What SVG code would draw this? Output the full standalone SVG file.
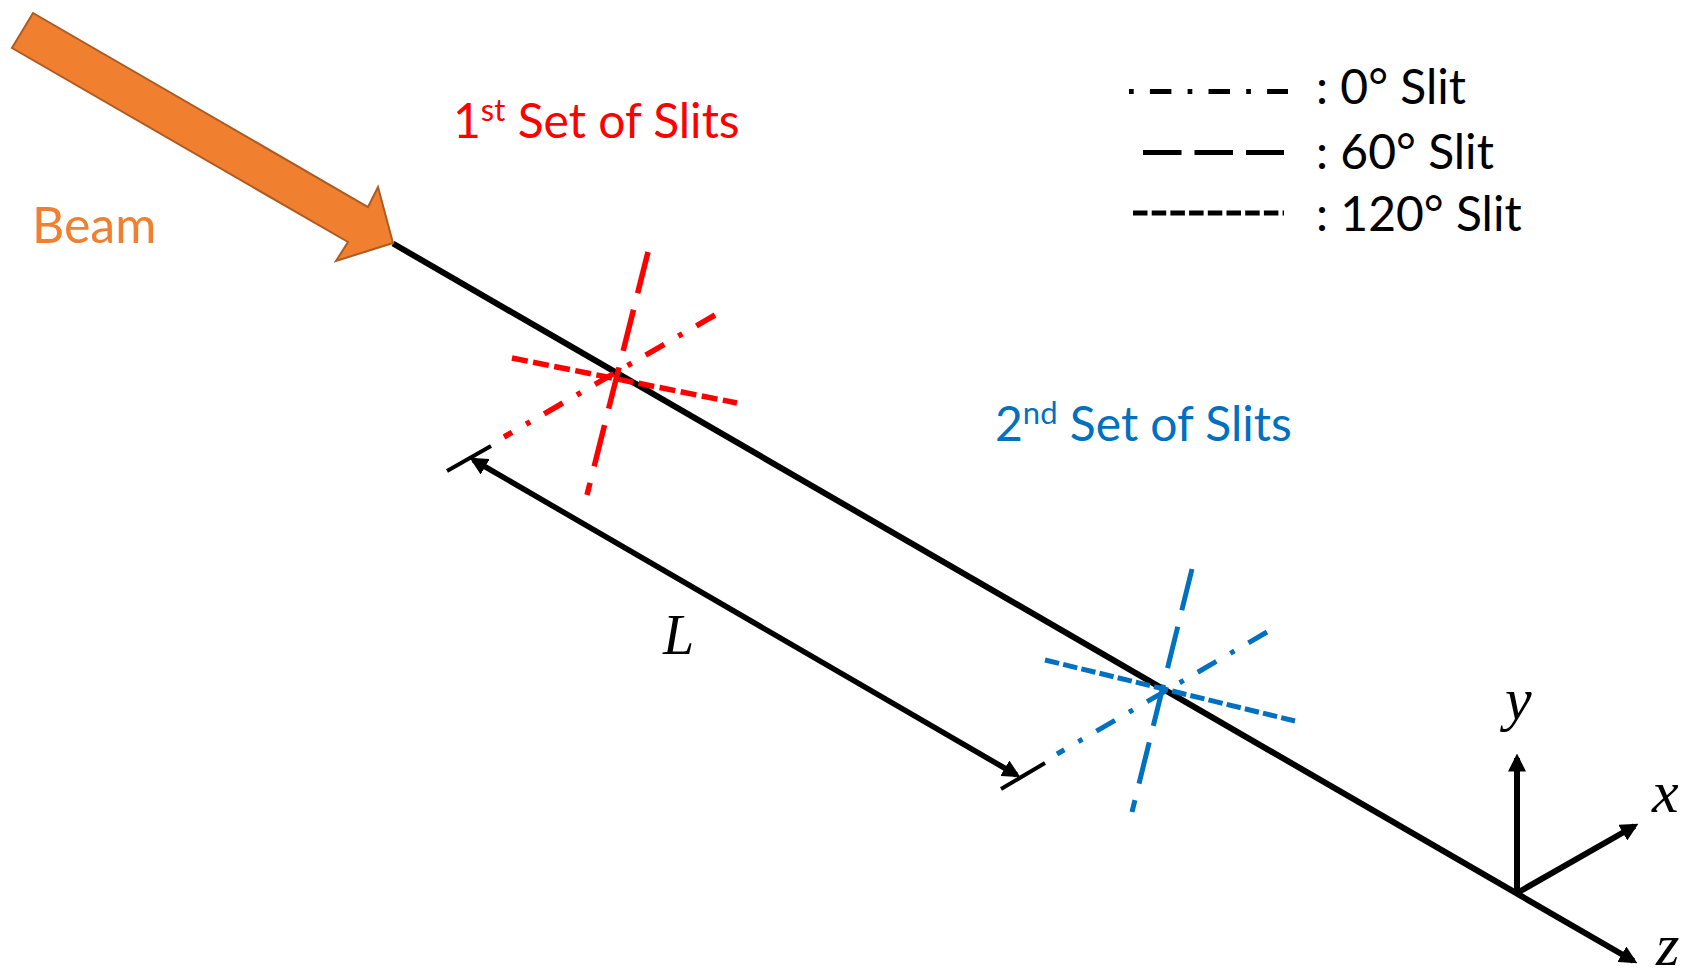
<svg xmlns="http://www.w3.org/2000/svg" width="1683" height="978" viewBox="0 0 1683 978">
<style>
.t{font-family:Lato,"Open Sans",sans-serif;font-size:48px}
.m{font-family:"Liberation Serif",serif;font-style:italic;font-size:60px;fill:#000}
.k{stroke:#000;fill:none}
.r{stroke:#f00;fill:none;stroke-width:5.5}
.b{stroke:#0070c0;fill:none;stroke-width:5}
.d60{stroke-dasharray:42.5 17}
.d0{stroke-dasharray:21.5 16.2 4.7 16.2}
.d120{stroke-dasharray:16 5.5}
.d120b{stroke-dasharray:14.5 4.2}
</style>
<defs>
<marker id="ah" markerUnits="userSpaceOnUse" markerWidth="18" markerHeight="18" refX="12" refY="8" orient="auto-start-reverse" viewBox="0 0 16 16"><path d="M0 0L16 8L0 16Z" fill="#000"/></marker>
</defs>
<g id="connectors">
<line class="k" stroke-width="6" x1="393" y1="243.500" x2="1633.500" y2="961" marker-end="url(#ah)"/>
<line class="k" stroke-width="6" x1="1517" y1="893" x2="1517" y2="758" marker-end="url(#ah)"/>
<line class="k" stroke-width="6" x1="1517" y1="893" x2="1634.500" y2="826" marker-end="url(#ah)"/>
<line class="k" stroke-width="5.500" x1="473.500" y1="460" x2="1016.500" y2="775" marker-start="url(#ah)" marker-end="url(#ah)"/>
<line class="k" stroke-width="4" x1="491" y1="446" x2="447" y2="471"/>
<line class="k" stroke-width="4" x1="1045" y1="763" x2="1001" y2="789"/>
</g>
<g id="beam">
<path d="M33 13L368 207L378 187L393 243L336 261L348 242L12 48Z" fill="#f08030" stroke="#ae5a21" stroke-width="2"/>
<text class="t" x="32" y="243" fill="#f08030" style="font-size:50px">Beam</text>
</g>
<g id="slits-1">
<line class="r d60" x1="648" y1="252" x2="587" y2="495"/>
<line class="r d0" x1="715" y1="315" x2="504" y2="437"/>
<line class="r d120" x1="512" y1="358" x2="737" y2="403"/>
<text class="t" x="453" y="138" fill="#f00">1<tspan font-size="31" dy="-17">st</tspan><tspan dy="17"> Set of Slits</tspan></text>
</g>
<g id="slits-2">
<line class="b d60" x1="1192" y1="569" x2="1132" y2="812"/>
<line class="b d0" x1="1267" y1="632" x2="1057" y2="754"/>
<line class="b d120b" x1="1045" y1="660" x2="1295" y2="721"/>
<text class="t" x="995" y="441" fill="#0070c0">2<tspan font-size="31" dy="-17">nd</tspan><tspan dy="17"> Set of Slits</tspan></text>
</g>
<g id="legend">
<line class="k d0" stroke-width="5" stroke-dashoffset="37.7" x1="1129" y1="91.5" x2="1288" y2="91.5"/>
<line class="k" stroke-width="5" stroke-dasharray="38.5 13" x1="1143" y1="152.5" x2="1284" y2="152.5"/>
<line class="k d120b" stroke-width="5" x1="1133" y1="213" x2="1284" y2="213"/>
<text class="t" x="1316" y="104">: 0° Slit</text>
<text class="t" x="1316" y="169">: 60° Slit</text>
<text class="t" x="1316" y="231">: 120° Slit</text>
</g>
<g id="labels">
<text class="m" x="663" y="654" style="font-size:56px">L</text>
<text class="m" x="1505" y="719">y</text>
<text class="m" x="1652" y="812">x</text>
<text class="m" x="1656" y="965">z</text>
</g>
</svg>
